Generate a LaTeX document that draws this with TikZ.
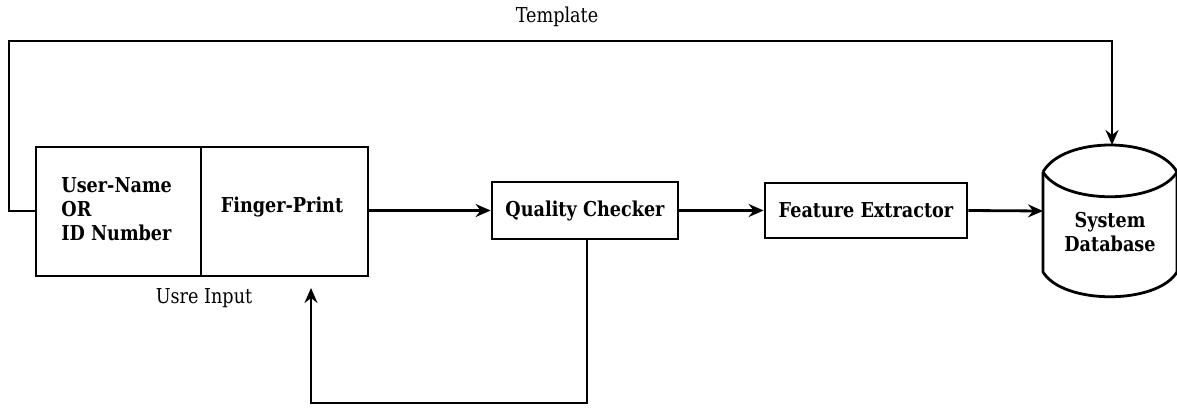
\documentclass[tikz,border=0pt]{standalone}
\usepackage{fontspec}
\setmainfont{DejaVu Serif}[FakeStretch=0.86]
\usetikzlibrary{arrows.meta}
\begin{document}
\begin{tikzpicture}[x=1pt,y=-1pt,
  line width=2.8pt,
  box/.style={draw,line width=2.8pt,inner sep=0pt,align=center,font=\bfseries\fontsize{20.5}{24}\selectfont},
  lbl/.style={font=\fontsize{20.5}{24}\selectfont,inner sep=0pt},
  arr/.style={-{Stealth[length=15pt,width=13pt,inset=5pt]},line width=2.8pt}]
\useasboundingbox (0,0) rectangle (1177,410);
% user input box
\node[box,minimum width=165pt,minimum height=129pt] (uname) at (118.5,211.5) {};
\node[align=left,anchor=west,inner sep=0pt,font=\bfseries\fontsize{20.5}{24}\selectfont] (unametext) at (60,209) {User-Name\\OR\\ID Number};
\node[box,minimum width=167pt,minimum height=129pt] (fp) at (284.5,211.5) {};
\node[inner sep=0pt,font=\bfseries\fontsize{20.5}{24}\selectfont] (fptext) at (282,207) {Finger-Print};
\node[lbl] (usre) at (204,298) {Usre Input};
% processing boxes
\node[box,minimum width=186pt,minimum height=57pt] (qc) at (585,210.5) {Quality Checker};
\node[box,minimum width=202pt,minimum height=55pt] (fe) at (866,210.5) {Feature Extractor};
% database
\draw (1043,172) .. controls (1063,136) and (1157,136) .. (1177,172);
\draw (1043,172) .. controls (1063,205) and (1157,205) .. (1177,172);
\draw (1043,172) -- (1043,272) .. controls (1063,305) and (1157,305) .. (1177,272) -- (1177,172);
\node[inner sep=0pt,align=center,font=\bfseries\fontsize{20.5}{24}\selectfont] (db) at (1110,232) {System\\Database};
\coordinate (dbw) at (1043,211);
\coordinate (dbn) at (1112,145);
\node[lbl] (tmpl) at (557,17) {Template};
% connectors
\coordinate (tl) at (9,41);
\coordinate (tl2) at (9,211);
\draw[arr] (uname.west |- tl2) -- (tl2) -- (tl) -- (tl -| dbn) -- (dbn);
\draw[arr] (fp.east |- qc.west) -- (qc.west);
\draw[arr] (qc.east) -- (fe.west);
\draw[arr] (fe.east) -- (dbw);
\coordinate (fb1) at (587,403);
\coordinate (fbtip) at (311,288);
\draw[arr] (qc.south -| fb1) -- (fb1) -- (fb1 -| fbtip) -- (fbtip);
\end{tikzpicture}
\end{document}
